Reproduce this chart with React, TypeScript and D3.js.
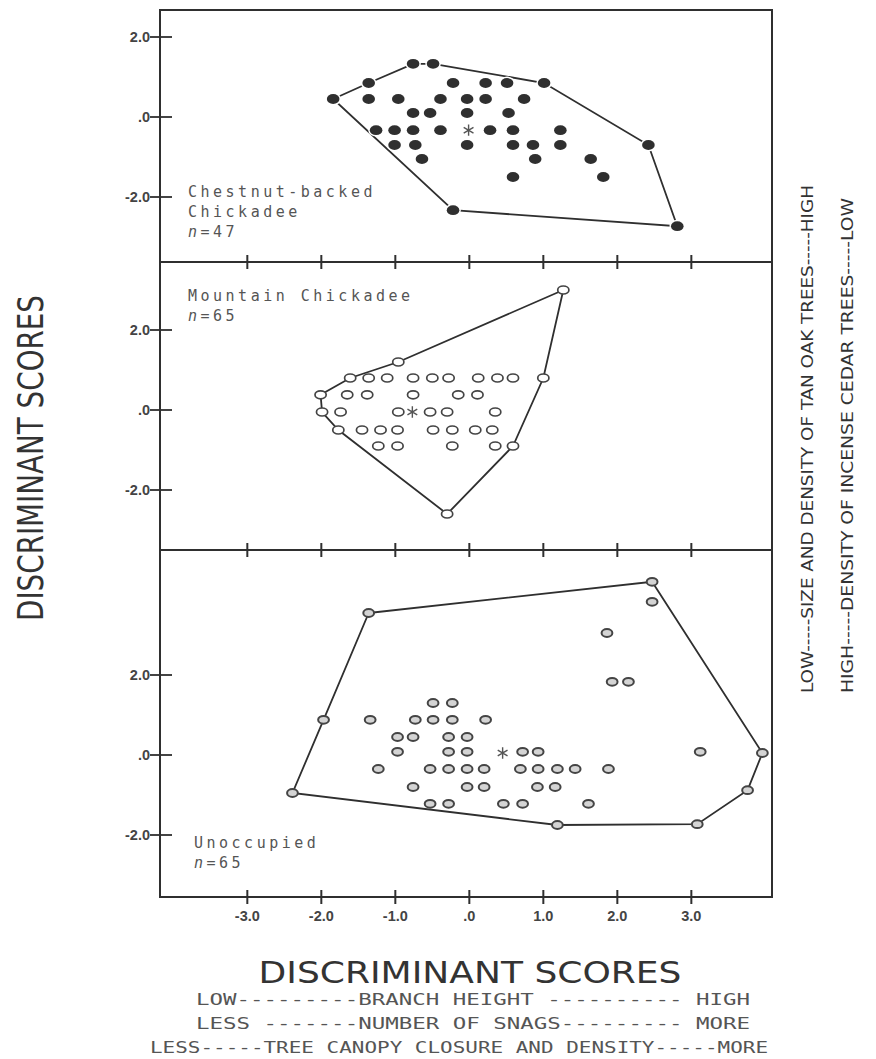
import React from "react";
import * as d3 from "d3";

// discriminant scores: [function 1 (x), function 2 (y)]
const xTicks = [-3, -2, -1, 0, 1, 2, 3];
const yTicks = [-2, 0, 2];

const chestnutPoints: [number, number][] = [
  [-0.76, 1.33], [-0.49, 1.33],
  [-1.36, 0.85], [-0.22, 0.85], [0.22, 0.85], [0.51, 0.85], [1.01, 0.85],
  [-1.84, 0.45], [-1.36, 0.45], [-0.96, 0.45], [-0.39, 0.45], [-0.03, 0.45], [0.22, 0.45], [0.74, 0.45],
  [-0.76, 0.1], [-0.53, 0.1], [-0.03, 0.1], [0.53, 0.1],
  [-1.26, -0.33], [-1.01, -0.33], [-0.76, -0.33], [-0.39, -0.33], [0.28, -0.33], [0.59, -0.33], [1.23, -0.33],
  [-1.01, -0.7], [-0.73, -0.7], [-0.03, -0.7], [0.59, -0.7], [0.86, -0.7], [1.23, -0.7],
  [-0.64, -1.05], [0.89, -1.05], [1.64, -1.05],
  [0.59, -1.5], [1.81, -1.5],
  [-0.22, -2.33], [2.42, -0.7], [2.81, -2.73],
];
const chestnutHull: [number, number][] = [
  [-1.84, 0.45], [-1.36, 0.85], [-0.76, 1.33], [-0.49, 1.33], [1.01, 0.85],
  [2.42, -0.7], [2.81, -2.73], [-0.22, -2.33],
];
const chestnutCentroid: [number, number] = [-0.01, -0.33];

const mountainPoints: [number, number][] = [
  [1.27, 3.0], [-0.96, 1.2],
  [-1.61, 0.8], [-1.36, 0.8], [-1.11, 0.8], [-0.76, 0.8], [-0.5, 0.8], [-0.28, 0.8], [0.12, 0.8], [0.38, 0.8], [0.59, 0.8], [1.0, 0.8],
  [-2.01, 0.38], [-1.65, 0.38], [-1.38, 0.38], [-0.76, 0.38], [-0.15, 0.38], [0.11, 0.38],
  [-1.99, -0.05], [-1.74, -0.05], [-0.96, -0.05], [-0.53, -0.05], [-0.3, -0.05], [0.35, -0.05],
  [-1.77, -0.5], [-1.45, -0.5], [-1.2, -0.5], [-0.97, -0.5], [-0.49, -0.5], [-0.23, -0.5], [0.08, -0.5], [0.31, -0.5],
  [-1.23, -0.9], [-0.97, -0.9], [-0.23, -0.9], [0.35, -0.9], [0.59, -0.9],
  [-0.3, -2.6],
];
const mountainHull: [number, number][] = [
  [1.27, 3.0], [-0.96, 1.2], [-1.61, 0.8], [-2.01, 0.38], [-1.99, -0.05],
  [-1.77, -0.5], [-0.3, -2.6], [0.59, -0.9], [1.0, 0.8],
];
const mountainCentroid: [number, number] = [-0.77, -0.05];

const unoccupiedPoints: [number, number][] = [
  [-1.36, 3.55], [2.47, 4.33], [2.47, 3.83], [1.86, 3.05], [1.93, 1.83], [2.15, 1.83],
  [-0.49, 1.3], [-0.23, 1.3],
  [-1.97, 0.88], [-1.34, 0.88], [-0.73, 0.88], [-0.49, 0.88], [-0.23, 0.88], [0.22, 0.88],
  [-0.97, 0.45], [-0.76, 0.45], [-0.28, 0.45], [-0.03, 0.45],
  [-0.97, 0.08], [-0.28, 0.08], [-0.03, 0.08], [0.72, 0.08], [0.93, 0.08], [3.12, 0.08], [3.96, 0.05],
  [-1.23, -0.35], [-0.53, -0.35], [-0.28, -0.35], [-0.03, -0.35], [0.2, -0.35], [0.69, -0.35], [0.93, -0.35], [1.19, -0.35], [1.43, -0.35], [1.88, -0.35],
  [-0.76, -0.8], [-0.03, -0.8], [0.2, -0.8], [0.92, -0.8], [1.16, -0.8],
  [-0.53, -1.22], [-0.28, -1.22], [0.46, -1.22], [0.72, -1.22], [1.61, -1.22],
  [-2.39, -0.95], [1.19, -1.75], [3.08, -1.73], [3.76, -0.88],
];
const unoccupiedHull: [number, number][] = [
  [-1.36, 3.55], [2.47, 4.33], [3.96, 0.05], [3.76, -0.88], [3.08, -1.73],
  [1.19, -1.75], [-2.39, -0.95], [-1.97, 0.88],
];
const unoccupiedCentroid: [number, number] = [0.45, 0.05];

const bottomLines = [
  "LOW---------BRANCH HEIGHT ---------- HIGH",
  "LESS -------NUMBER OF SNAGS--------- MORE",
  "LESS-----TREE CANOPY CLOSURE AND DENSITY-----MORE",
];

const W = 876;
const H = 1059;
const left = 160;
const right = 772;

const x = d3.scaleLinear().domain([-4.18, 4.09]).range([left, right]);

const panels = [
  {
    key: "chestnut",
    top: 10, bottom: 262, domain: [-3.625, 2.675],
    points: chestnutPoints, hull: chestnutHull, centroid: chestnutCentroid,
    kind: "filled",
    label: ["Chestnut-backed", "Chickadee"], n: "47",
    lx: 188, ly: 197,
  },
  {
    key: "mountain",
    top: 262, bottom: 550, domain: [-3.5, 3.7],
    points: mountainPoints, hull: mountainHull, centroid: mountainCentroid,
    kind: "open",
    label: ["Mountain Chickadee"], n: "65",
    lx: 188, ly: 301,
  },
  {
    key: "unoccupied",
    top: 550, bottom: 897, domain: [-3.55, 5.125],
    points: unoccupiedPoints, hull: unoccupiedHull, centroid: unoccupiedCentroid,
    kind: "shaded",
    label: ["Unoccupied"], n: "65",
    lx: 194, ly: 848,
  },
];

const fmt = (v: number) => (v === 0 ? ".0" : v.toFixed(1));
const ink = "#2f2f2f";
const grey = "#555";
const mono = "'DejaVu Sans Mono', monospace";
const narrow = "'DejaVu Sans', 'Liberation Sans Narrow', sans-serif";
const tickFont = "'Liberation Sans', Arial, sans-serif";

const asterisk = d3.symbol().type(d3.symbolAsterisk).size(90);

function Panel({ p }: { p: (typeof panels)[number] }) {
  const y = d3.scaleLinear().domain(p.domain).range([p.bottom, p.top]);
  const hullPath = d3
    .line<[number, number]>()
    .x((d) => x(d[0]))
    .y((d) => y(d[1]))
    .curve(d3.curveLinearClosed)(p.hull);

  const mark = (d: [number, number], i: number) => {
    if (p.kind === "filled")
      return (
        <ellipse key={i} cx={x(d[0])} cy={y(d[1])} rx={6.3} ry={4.9}
          fill={ink} stroke="#fff" strokeWidth={3} style={{ paintOrder: "stroke" }} />
      );
    if (p.kind === "open")
      return (
        <ellipse key={i} cx={x(d[0])} cy={y(d[1])} rx={5.6} ry={4}
          fill="#fff" stroke="#444" strokeWidth={1.7} />
      );
    return (
      <ellipse key={i} cx={x(d[0])} cy={y(d[1])} rx={5.4} ry={3.9}
        fill="#d4d4d4" stroke="#444" strokeWidth={2} />
    );
  };

  return (
    <g>
      <path d={hullPath || ""} fill="none" stroke={ink} strokeWidth={1.8} />
      {p.points.map(mark)}
      <path d={asterisk() || ""} transform={`translate(${x(p.centroid[0])},${y(p.centroid[1])})`}
        fill="none" stroke="#555" strokeWidth={1.4} />
      {yTicks.map((t) => (
        <g key={t}>
          <line x1={left - 10} x2={left + 12} y1={y(t)} y2={y(t)} stroke={ink} strokeWidth={1.8} />
          <text x={150} y={y(t) + 5} textAnchor="end" fontFamily={tickFont}
            fontWeight="bold" fontSize={14.5} fill="#444">{fmt(t)}</text>
        </g>
      ))}
      {xTicks.map((t) => (
        <line key={t} x1={x(t)} x2={x(t)} y1={p.bottom - 7} y2={p.bottom + 7} stroke={ink} strokeWidth={2} />
      ))}
      <g fontFamily={mono} fontSize={15} fill={grey} letterSpacing={3.5}>
        {p.label.map((s, i) => (
          <text key={s} x={p.lx} y={p.ly + i * 20}>{s}</text>
        ))}
        <text x={p.lx} y={p.ly + p.label.length * 20}>
          <tspan fontStyle="italic">n</tspan>={p.n}
        </text>
      </g>
    </g>
  );
}

export default function App() {
  return (
    <svg width={W} height={H} viewBox={`0 0 ${W} ${H}`}
      style={{ position: "absolute", left: 0, top: 0, background: "#fff" }}>
      <rect width={W} height={H} fill="#fff" />
      {panels.map((p) => (
        <Panel key={p.key} p={p} />
      ))}
      <rect x={left} y={10} width={right - left} height={897 - 10} fill="none" stroke={ink} strokeWidth={2} />
      {panels.slice(0, 2).map((p) => (
        <line key={p.key} x1={left} x2={right} y1={p.bottom} y2={p.bottom} stroke={ink} strokeWidth={2} />
      ))}
      {xTicks.map((t) => (
        <text key={t} x={x(t)} y={921} textAnchor="middle" fontFamily={tickFont}
          fontWeight="bold" fontSize={14.5} fill="#444">{fmt(t)}</text>
      ))}
      <text x={470} y={983} textAnchor="middle" fontFamily="'DejaVu Sans', sans-serif" fontSize={30}
        fill="#333" textLength={423} lengthAdjust="spacingAndGlyphs">DISCRIMINANT SCORES</text>
      {bottomLines.map((s, i) => (
        <text key={i} x={i === 2 ? 150 : 196} y={1005 + i * 24} fontFamily={mono} fontSize={15} fill={grey}
          textLength={i === 2 ? 618 : 554} lengthAdjust="spacingAndGlyphs">{s}</text>
      ))}
      <text transform="translate(43,458) rotate(-90)" textAnchor="middle" fontFamily={narrow} fontSize={36}
        fontStretch="condensed" fill="#333" textLength={326} lengthAdjust="spacingAndGlyphs">DISCRIMINANT SCORES</text>
      <text transform="translate(813,693) rotate(-90)" fontFamily={narrow} fontSize={16} fontStretch="condensed"
        fill="#333" textLength={508} lengthAdjust="spacingAndGlyphs">LOW-----SIZE AND DENSITY OF TAN OAK TREES-----HIGH</text>
      <text transform="translate(853,693) rotate(-90)" fontFamily={narrow} fontSize={16} fontStretch="condensed"
        fill="#333" textLength={495} lengthAdjust="spacingAndGlyphs">HIGH-----DENSITY OF INCENSE CEDAR TREES-----LOW</text>
    </svg>
  );
}
